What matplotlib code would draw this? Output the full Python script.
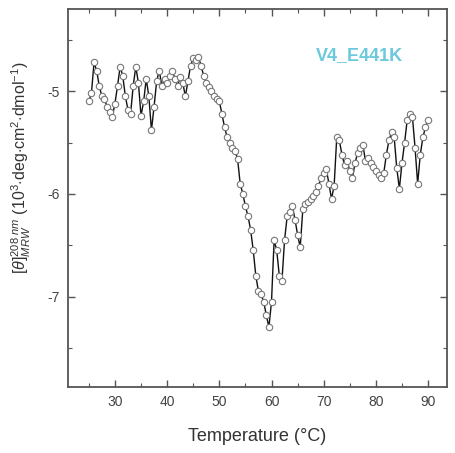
import numpy as np
import matplotlib
matplotlib.use("Agg")
from matplotlib import pyplot as plt
from matplotlib.ticker import MultipleLocator

plt.rcParams['font.family'] = ['Liberation Sans', 'DejaVu Sans']
plt.rcParams['mathtext.fontset'] = 'custom'
plt.rcParams['mathtext.rm'] = 'Liberation Sans'
plt.rcParams['mathtext.it'] = 'Liberation Sans:italic'
plt.rcParams['mathtext.bf'] = 'Liberation Sans:bold'
plt.rcParams['axes.unicode_minus'] = False

# temperature grid (0.5 C steps) and ellipticity
temp = np.arange(25.0, 90.01, 0.5)
theta = [-5.10, -5.02, -4.72, -4.80, -4.95, -5.05, -5.08, -5.15, -5.20, -5.25,
         -5.12, -4.95, -4.76, -4.85, -5.05, -5.18, -5.22, -4.95, -4.76, -4.92,
         -5.24, -5.10, -4.88, -5.05, -5.38, -5.15, -4.90, -4.80, -4.95, -4.88,
         -4.92, -4.85, -4.80, -4.88, -4.95, -4.86, -4.92, -5.05, -4.90, -4.75,
         -4.68, -4.70, -4.67, -4.75, -4.85, -4.92, -4.96, -5.00, -5.05, -5.08,
         -5.10, -5.22, -5.35, -5.45, -5.50, -5.55, -5.58, -5.66, -5.90, -6.00,
         -6.12, -6.22, -6.35, -6.55, -6.80, -6.95, -6.98, -7.05, -7.18, -7.30,
         -7.05, -6.45, -6.55, -6.80, -6.85, -6.45, -6.22, -6.18, -6.12, -6.25,
         -6.40, -6.52, -6.15, -6.10, -6.08, -6.05, -6.02, -5.98, -5.92, -5.85,
         -5.80, -5.76, -5.90, -6.05, -5.92, -5.45, -5.48, -5.62, -5.72, -5.68,
         -5.78, -5.85, -5.70, -5.60, -5.55, -5.52, -5.68, -5.65, -5.70, -5.74,
         -5.78, -5.82, -5.85, -5.80, -5.62, -5.48, -5.40, -5.45, -5.75, -5.95,
         -5.70, -5.50, -5.28, -5.22, -5.25, -5.55, -5.90, -5.62, -5.45, -5.35,
         -5.28]

fig = plt.figure(figsize=(4.56, 4.53), dpi=100)
ax = fig.add_axes([0.149, 0.146, 0.831, 0.834])

ax.plot(temp, theta, '-', color='#111111', lw=1.0, zorder=2)
ax.plot(temp, theta, 'o', mfc='white', mec='#777777', mew=0.8, ms=4.6, zorder=3)

ax.set_xlim(21, 93.6)
ax.set_ylim(-7.88, -4.2)
ax.xaxis.set_minor_locator(MultipleLocator(5))
ax.yaxis.set_minor_locator(MultipleLocator(0.5))
ax.set_xticks([30, 40, 50, 60, 70, 80, 90])
ax.set_yticks([-7, -6, -5])
ax.tick_params(which='both', direction='in', top=True, right=True,
               colors='#555555', labelsize=10, labelcolor='#444444')
ax.tick_params(which='major', length=5, width=1, pad=6)
ax.tick_params(which='minor', length=3, width=0.8)
for s in ax.spines.values():
    s.set_color('#555555')
    s.set_linewidth(1.3)

ax.set_xlabel('Temperature (°C)', fontsize=13, color='#333333')
ax.xaxis.set_label_coords(0.5, -0.108)
ax.set_ylabel(r'$[\theta]^{208\ nm}_{MRW}$ (10$^3$$\cdot$deg$\cdot$cm$^2$$\cdot$dmol$^{-1}$)',
              fontsize=11.5, color='#333333')
ax.yaxis.set_label_coords(-0.092, 0.58)

ax.text(0.77, 0.878, 'V4_E441K', transform=ax.transAxes, ha='center', va='center',
        color='#6cc8dc', fontsize=13, fontweight='bold')

plt.savefig('out.png', dpi=100)
